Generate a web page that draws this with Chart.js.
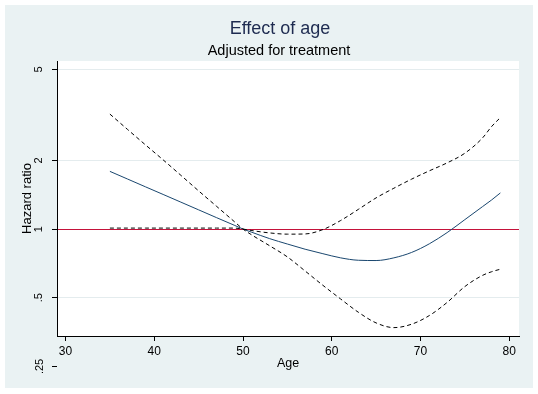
<!DOCTYPE html>
<html>
<head>
<meta charset="utf-8">
<script src="https://cdn.jsdelivr.net/npm/chart.js@4"></script>
<style>
  html, body { margin: 0; padding: 0; background: #ffffff; }
  canvas { display: block; }
</style>
</head>
<body>
<canvas id="c" width="538" height="394"></canvas>
<script>
// ---- data ----
const ages     = [35, 37, 39, 41, 43, 45, 47, 49, 50, 51, 53, 55, 57, 59, 61, 63, 65, 67, 69, 71, 73, 75, 77, 78, 79];
const hazard   = [1.79, 1.656, 1.532, 1.418, 1.312, 1.214, 1.123, 1.04, 1.0, 0.968, 0.908, 0.86, 0.816, 0.78, 0.748, 0.73, 0.728, 0.748, 0.79, 0.862, 0.965, 1.1, 1.255, 1.34, 1.44];
const ciBandA  = [3.19, 2.73, 2.34, 2.01, 1.72, 1.47, 1.26, 1.08, 1.0, 0.942, 0.845, 0.755, 0.655, 0.567, 0.494, 0.432, 0.388, 0.37, 0.383, 0.418, 0.477, 0.56, 0.627, 0.65, 0.667];
const ciBandB  = [1.01, 1.01, 1.01, 1.01, 1.01, 1.01, 1.01, 1.01, 1.0, 0.985, 0.962, 0.95, 0.952, 0.995, 1.09, 1.22, 1.37, 1.51, 1.655, 1.80, 1.95, 2.15, 2.51, 2.81, 3.08];
const xTickValues = [30, 40, 50, 60, 70, 80];
const xTickLabels = ['30', '40', '50', '60', '70', '80'];
const yTickValues = [0.25, 0.5, 1, 2, 5];
const yTickLabels = ['.25', '.5', '1', '2', '5'];
const referenceValue = 1;
const titleText = 'Effect of age';
const subtitleText = 'Adjusted for treatment';
const xTitle = 'Age';
const yTitle = 'Hazard ratio';

const FONT = '"Liberation Sans", Arial, Helvetica, sans-serif';
const X_MIN = 29.04, X_MAX = 81.1, Y_MIN = 0.34, Y_MAX = 5.45;

const toPoints = (vals) => ages.map((a, i) => ({ x: a, y: vals[i] }));

const bgPlugin = {
  id: 'stataBg',
  beforeDraw(chart) {
    const ctx = chart.ctx, a = chart.chartArea;
    ctx.save();
    ctx.fillStyle = '#ffffff';
    ctx.fillRect(0, 0, chart.width, chart.height);
    ctx.fillStyle = '#eaf2f3';
    ctx.fillRect(5, 5, chart.width - 10, chart.height - 11);
    ctx.fillStyle = '#ffffff';
    ctx.fillRect(a.left, a.top, a.right - a.left, a.bottom - a.top);
    // titles
    ctx.textAlign = 'center';
    ctx.textBaseline = 'middle';
    ctx.fillStyle = '#1e2b50';
    ctx.font = '18px ' + FONT;
    ctx.fillText(titleText, 280, 29);
    ctx.fillStyle = '#000000';
    ctx.font = '14.5px ' + FONT;
    ctx.fillText(subtitleText, 279, 51);
    ctx.restore();
  },
  afterDraw(chart) {
    // y ticks that Stata draws outside the plot region
    const ctx = chart.ctx, y = chart.scales.y, a = chart.chartArea;
    ctx.save();
    yTickValues.forEach((v, i) => {
      if (v >= Y_MIN && v <= Y_MAX) return;
      const py = y.getPixelForValue(v);
      ctx.strokeStyle = '#000000';
      ctx.lineWidth = 1;
      ctx.beginPath();
      ctx.moveTo(a.left - 5, Math.round(py) + 0.5);
      ctx.lineTo(a.left, Math.round(py) + 0.5);
      ctx.stroke();
      ctx.translate(39.5, py);
      ctx.rotate(-Math.PI / 2);
      ctx.font = '11px ' + FONT;
      ctx.fillStyle = '#000000';
      ctx.textAlign = 'center';
      ctx.textBaseline = 'middle';
      ctx.fillText(yTickLabels[i], 0, 0);
      ctx.setTransform(1, 0, 0, 1, 0, 0);
    });
    ctx.restore();
  }
};

new Chart(document.getElementById('c'), {
  type: 'line',
  data: {
    datasets: [
      { label: 'ciA', data: toPoints(ciBandA), borderColor: '#000000', borderWidth: 1, borderDash: [4, 3] },
      { label: 'ciB', data: toPoints(ciBandB), borderColor: '#000000', borderWidth: 1, borderDash: [4, 3] },
      { label: 'hr', data: toPoints(hazard), borderColor: '#1a476f', borderWidth: 1 }
    ]
  },
  options: {
    responsive: false,
    animation: false,
    devicePixelRatio: 1,
    layout: { padding: { left: 0, right: 19, top: 61, bottom: 0 } },
    elements: {
      point: { radius: 0, hoverRadius: 0 },
      line: { cubicInterpolationMode: 'monotone', fill: false }
    },
    plugins: { legend: { display: false }, tooltip: { enabled: false }, title: { display: false } },
    scales: {
      x: {
        type: 'linear',
        min: X_MIN, max: X_MAX,
        bounds: 'data',
        afterBuildTicks(s) { s.ticks = xTickValues.map(v => ({ value: v })); },
        afterFit(s) { s.height = 58; },
        grid: { drawOnChartArea: false, tickLength: 5, tickColor: '#000000', tickWidth: 1 },
        border: { display: true, color: '#000000', width: 1 },
        ticks: {
          padding: 3, color: '#000000', maxRotation: 0, autoSkip: false,
          font: { family: FONT, size: 12 },
          callback: (v) => xTickLabels[xTickValues.indexOf(v)]
        },
        title: { display: true, text: xTitle, color: '#000000', font: { family: FONT, size: 12.5 }, padding: { top: 0, bottom: 22.5 } }
      },
      y: {
        type: 'logarithmic',
        min: Y_MIN, max: Y_MAX,
        bounds: 'data',
        afterBuildTicks(s) { s.ticks = yTickValues.filter(v => v >= Y_MIN && v <= Y_MAX).map(v => ({ value: v })); },
        afterFit(s) { s.width = 57; },
        grid: {
          drawOnChartArea: true, tickLength: 5, tickColor: '#000000', tickWidth: 1,
          color: (c) => (c.tick && Math.abs(c.tick.value - referenceValue) < 1e-9) ? '#c4123a' : '#e4ecee',
          lineWidth: 1
        },
        border: { display: true, color: '#000000', width: 1 },
        ticks: {
          padding: 8, color: '#000000', minRotation: 90, maxRotation: 90, crossAlign: 'center', autoSkip: false,
          font: { family: FONT, size: 11 },
          callback: (v) => yTickLabels[yTickValues.indexOf(v)]
        },
        title: { display: true, text: yTitle, color: '#000000', font: { family: FONT, size: 13 }, padding: { top: 20, bottom: 0 } }
      }
    }
  },
  plugins: [bgPlugin]
});
</script>
</body>
</html>
